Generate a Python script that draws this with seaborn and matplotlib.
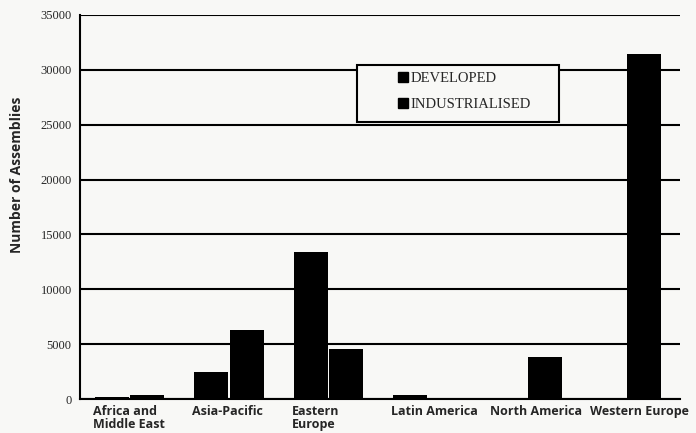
"""Number of assemblies by region, developed vs industrialised."""
import matplotlib.pyplot as plt
import numpy as np
import pandas as pd
import seaborn as sns
from matplotlib.lines import Line2D
from matplotlib.patches import Rectangle

REGIONS = ["Africa and\nMiddle East", "Asia-Pacific", "Eastern\nEurope",
           "Latin America", "North America", "Western Europe"]
DEVELOPED = [150, 2450, 13400, 350, 0, 0]
INDUSTRIALISED = [400, 6300, 4550, 0, 3850, 31400]
SERIES = ["DEVELOPED", "INDUSTRIALISED"]
Y_TICKS = [0, 5000, 10000, 15000, 20000, 25000, 30000, 35000]

BG = "#f8f8f6"


def main() -> None:
    df = pd.DataFrame({
        "region": REGIONS * 2,
        "series": [SERIES[0]] * len(REGIONS) + [SERIES[1]] * len(REGIONS),
        "value": DEVELOPED + INDUSTRIALISED,
    })

    sns.set_style("white")
    fig = plt.figure(figsize=(6.96, 4.33), dpi=100, facecolor=BG)
    ax = fig.add_axes([0.115, 0.0785, 0.862, 0.887])
    ax.set_facecolor(BG)

    sns.barplot(data=df, x="region", y="value", hue="series", order=REGIONS,
                hue_order=SERIES, palette=["black", "black"], width=0.71,
                gap=0.04, linewidth=0, edgecolor="black", legend=False, ax=ax,
                zorder=3)

    ax.set_ylim(0, 35000)
    ax.set_xlim(-0.5, 5.54)
    ax.set_yticks(Y_TICKS)
    ax.set_yticklabels([str(t) for t in Y_TICKS], family="Liberation Serif", fontsize=9)
    ax.yaxis.grid(True, color="black", linewidth=1.5, zorder=1)
    ax.tick_params(axis="y", length=4, width=1.2, color="black", pad=2)
    ax.tick_params(axis="x", length=0, pad=4)

    pos = np.arange(len(REGIONS)) - 0.37
    ax.set_xticks(pos)
    ax.set_xticklabels(REGIONS, ha="left", va="top", family="Open Sans",
                       weight="bold", fontsize=9, linespacing=1.05)
    ax.set_xlabel("")
    ax.set_ylabel("Number of Assemblies", family="Open Sans", weight="bold",
                  fontsize=10)
    ax.yaxis.set_label_coords(-0.094, 0.583)

    for side in ["top", "right"]:
        ax.spines[side].set_visible(False)
    for side in ["left", "bottom"]:
        ax.spines[side].set_color("black")
        ax.spines[side].set_linewidth(1.5)

    # legend box
    ax.add_patch(Rectangle((0.462, 0.721), 0.336, 0.149, transform=ax.transAxes,
                           facecolor=BG, edgecolor="black", linewidth=1.5, zorder=4))
    handles = [Line2D([], [], marker="s", color="black", linestyle="", markersize=6.5)
               for _ in SERIES]
    leg = ax.legend(handles, SERIES, loc="upper left", bbox_to_anchor=(0.52, 0.867),
                    frameon=False, prop={"family": "Liberation Serif", "size": 10.5},
                    handletextpad=0.15, handlelength=0.7, labelspacing=0.85,
                    borderaxespad=0)
    leg.set_zorder(5)

    fig.savefig("out.png", facecolor=BG)
    plt.close(fig)


if __name__ == "__main__":
    main()
